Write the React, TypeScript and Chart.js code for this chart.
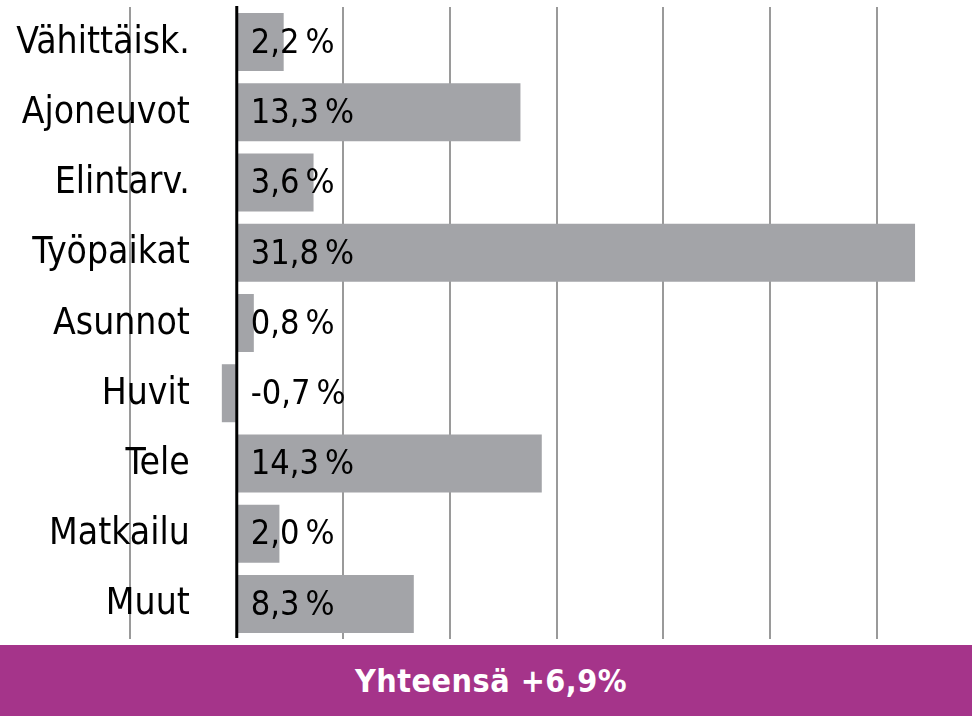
import React, { useEffect, useRef } from 'react';
import { Chart, registerables } from 'chart.js';

Chart.register(...registerables);

const categories = ['Vähittäisk.', 'Ajoneuvot', 'Elintarv.', 'Työpaikat', 'Asunnot', 'Huvit', 'Tele', 'Matkailu', 'Muut'];
const values = [2.2, 13.3, 3.6, 31.8, 0.8, -0.7, 14.3, 2.0, 8.3];
const gridTicks = [-5, 0, 5, 10, 15, 20, 25, 30];
const totalLabel = 'Yhteensä +6,9%';

const FONT = "'DejaVu Sans Condensed', 'DejaVu Sans', sans-serif";

const fmt = (v: number) => v.toFixed(1).replace('.', ',') + '\u2009%';

const overlayPlugin = {
  id: 'overlay',
  afterDatasetsDraw(chart: any) {
    const { ctx, chartArea, scales } = chart;
    const xs = scales.x;
    const ys = scales.y;
    const x0 = xs.getPixelForValue(0);
    ctx.save();
    // zero line
    ctx.strokeStyle = '#000000';
    ctx.lineWidth = 3;
    ctx.beginPath();
    ctx.moveTo(x0, chartArea.top - 1);
    ctx.lineTo(x0, chartArea.bottom - 1);
    ctx.stroke();
    // category labels
    ctx.fillStyle = '#000000';
    ctx.font = `37px ${FONT}`;
    ctx.textAlign = 'right';
    ctx.textBaseline = 'middle';
    const labelX = xs.getPixelForValue(-2.2);
    chart.data.labels.forEach((lab: string, i: number) => {
      ctx.fillText(lab, labelX, ys.getPixelForValue(i) + 1);
    });
    // value labels
    ctx.font = `34px ${FONT}`;
    ctx.textAlign = 'left';
    const data = chart.data.datasets[0].data as number[];
    data.forEach((v: number, i: number) => {
      ctx.fillText(fmt(v), x0 + 14, ys.getPixelForValue(i) + 2);
    });
    ctx.restore();
  },
};

function BarChart() {
  const ref = useRef<HTMLCanvasElement>(null);
  useEffect(() => {
    if (!ref.current) return;
    const chart = new Chart(ref.current, {
      type: 'bar',
      data: {
        labels: categories,
        datasets: [
          {
            data: values,
            backgroundColor: '#a3a4a8',
            borderWidth: 0,
            barPercentage: 0.826,
            categoryPercentage: 1,
          },
        ],
      },
      options: {
        indexAxis: 'y',
        animation: false,
        responsive: false,
        maintainAspectRatio: false,
        layout: { padding: { top: 7, bottom: 6, left: 0, right: 0 } },
        plugins: { legend: { display: false }, tooltip: { enabled: false } },
        scales: {
          x: {
            type: 'linear',
            min: -11.1,
            max: 34.47,
            afterBuildTicks: (scale: any) => {
              scale.ticks = gridTicks.map((v) => ({ value: v }));
            },
            ticks: { display: false },
            border: { display: false },
            grid: {
              drawTicks: false,
              color: (c: any) => (c.tick && c.tick.value === 0 ? 'rgba(0,0,0,0)' : '#9a9a9a'),
              lineWidth: 2,
            },
          },
          y: {
            display: false,
          },
        },
      },
      plugins: [overlayPlugin],
    });
    return () => chart.destroy();
  }, []);
  return <canvas ref={ref} width={972} height={645} style={{ display: 'block' }} />;
}

export default function App() {
  useEffect(() => {
    document.body.style.margin = '0';
  }, []);
  return (
    <div style={{ position: 'fixed', left: 0, top: 0, width: 972, height: 716, background: '#ffffff' }}>
      <BarChart />
      <div
        style={{
          height: 71,
          background: '#a5348a',
          color: '#ffffff',
          fontFamily: FONT,
          fontWeight: 'bold',
          fontSize: 32,
          display: 'flex',
          alignItems: 'center',
          justifyContent: 'center',
          paddingLeft: 10,
          boxSizing: 'border-box',
          letterSpacing: 0.5,
        }}
      >
        {totalLabel}
      </div>
    </div>
  );
}
